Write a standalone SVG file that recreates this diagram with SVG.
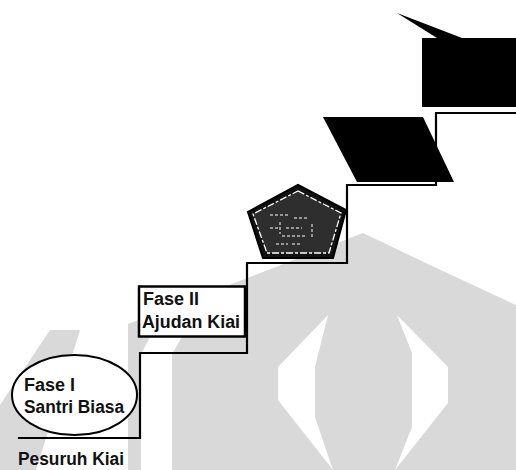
<svg xmlns="http://www.w3.org/2000/svg" width="516" height="470" viewBox="0 0 516 470">
<style>
.wm{fill:#d9d9d9}
.wh{fill:#ffffff}
.step{fill:none;stroke:#000;stroke-width:2.2;stroke-linecap:square}
.lbl{font-family:"Liberation Sans",Arial,sans-serif;font-weight:bold;font-size:18px;fill:#111}
.solid{fill:#000}
</style>
<rect width="516" height="470" fill="#fff"/>
<g id="watermark">
<path class="wm" d="M128,324 L250,277 L363,233 L430,265 L516,305 L516,470 L128,470 Z"/>
<path class="wm" d="M50,330 L80,330 L36,470 L0,470 L0,405 Z"/>
<path class="wh" d="M141,354 L150,337 L182,337 L172,354 L172,470 L141,470 Z"/>
<path class="wh" d="M328,315 L278,367 L278,400 L333,470 L315,417 L315,367 Z"/>
<path class="wh" d="M397,315 L448,367 L448,403 L395,470 L412,427 L412,353 Z"/>
</g>
<g id="connectors">
<path class="step" d="M19,438 H140 V353 H247 V263 H347 V185 H436 V113 H516"/>
</g>
<g id="fase1">
<ellipse cx="74.5" cy="395" rx="62.5" ry="40" fill="#fff" stroke="#000" stroke-width="2"/>
<text class="lbl" x="24" y="391">Fase I</text>
<text class="lbl" x="24" y="413" textLength="100" lengthAdjust="spacingAndGlyphs">Santri Biasa</text>
</g>
<g id="pesuruh">
<text class="lbl" x="18" y="465" font-size="17" textLength="106" lengthAdjust="spacingAndGlyphs">Pesuruh Kiai</text>
</g>
<g id="fase2">
<rect x="139" y="286.5" width="106" height="50" fill="#fff" stroke="#000" stroke-width="2.5"/>
<text class="lbl" x="143" y="305" font-size="19" fill="#000">Fase II</text>
<text class="lbl" x="142" y="328" font-size="19" fill="#000" textLength="98" lengthAdjust="spacingAndGlyphs">Ajudan Kiai</text>
</g>
<g id="fase3">
<polygon points="298,185 346,210 333,258 263,258 248,212" fill="#111" stroke="#000" stroke-width="2"/>
<polygon points="298,191 341,213 329,253 267,253 253,214" fill="#2e2e2e" stroke="#fff" stroke-width="1.3" stroke-dasharray="7 2 3 2"/>
<path d="M270,215 h20 m4,3 h14 m-38,10 h10 m6,0 h16 m-20,8 h24 m-30,8 h12 m4,0 h8 M280,222 v12 M312,224 v14" stroke="#fff" stroke-width="1" stroke-dasharray="3 2" fill="none"/>
</g>
<g id="fase4">
<polygon class="solid" points="323,117 423,117 454,182 357,182"/>
</g>
<g id="fase5">
<polygon class="solid" points="397,13 462,38 437,38"/>
<rect class="solid" x="422" y="38" width="94" height="69"/>
</g>
</svg>
